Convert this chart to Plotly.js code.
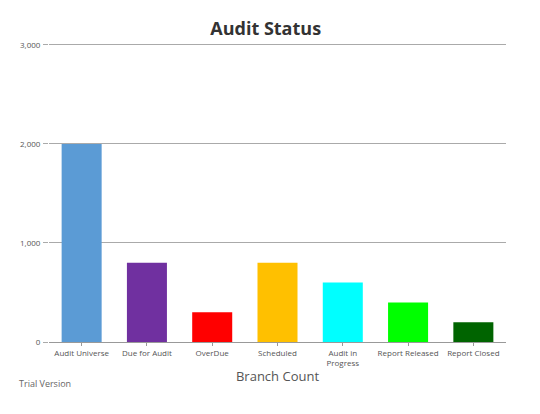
<!DOCTYPE html>
<html><head><meta charset="utf-8">
<script src="https://cdn.plot.ly/plotly-3.0.1.min.js"></script>
<style>html,body{margin:0;padding:0;background:#fff}#chart{width:540px;height:414px}</style>
</head><body><div id="chart"></div>
<script>
const categories = ["Audit Universe","Due for Audit","OverDue","Scheduled","Audit in<br>Progress","Report Released","Report Closed"];
const branchCount = [2000, 800, 300, 800, 600, 400, 200];
const barColors = ["#5B9BD5","#7030A0","#FF0000","#FFC000","#00FFFF","#00FF00","#006400"];
const yTicks = [0, 1000, 2000, 3000];
const yTickLabels = ["0","1,000","2,000","3,000"];

const trace = {
  type: "bar",
  x: categories,
  y: branchCount,
  marker: {color: barColors, line: {width: 0}},
  hoverinfo: "x+y"
};
const layout = {
  width: 540, height: 414,
  margin: {l: 49, r: 34, t: 42, b: 72, autoexpand: false},
  paper_bgcolor: "#fff", plot_bgcolor: "#fff",
  font: {family: "Open Sans, DejaVu Sans, sans-serif", color: "#555"},
  title: {text: "<b>Audit Status</b>", x: 0.492, xanchor: "center", y: 0.945, yanchor: "top",
          font: {size: 18, color: "#333", family: "Open Sans, sans-serif"}},
  bargap: 0.387,
  xaxis: {
    title: {text: "Branch Count", font: {size: 13, color: "#555"}, standoff: 4},
    tickfont: {size: 8, color: "#555"},
    automargin: false,
    showline: true, linecolor: "#999", linewidth: 1,
    ticks: "outside", ticklen: 3, tickcolor: "#999",
    showgrid: false, fixedrange: true
  },
  yaxis: {
    range: [0, 3030],
    automargin: false,
    tickvals: yTicks, ticktext: yTickLabels,
    tickfont: {size: 8, color: "#555"},
    showgrid: true, gridcolor: "#aaa", gridwidth: 1,
    zeroline: false, showline: false,
    ticks: "outside", ticklen: 5, tickcolor: "#aaa", tickwidth: 1,
    ticklabelstandoff: 1, fixedrange: true
  },
  annotations: [{
    text: "Trial Version", xref: "paper", yref: "paper",
    x: -32/457, y: -41/300, xanchor: "left", yanchor: "middle",
    showarrow: false, font: {size: 9, color: "#666"}
  }],
  showlegend: false
};
Plotly.newPlot("chart", [trace], layout, {displayModeBar: false, staticPlot: true});
</script></body></html>
